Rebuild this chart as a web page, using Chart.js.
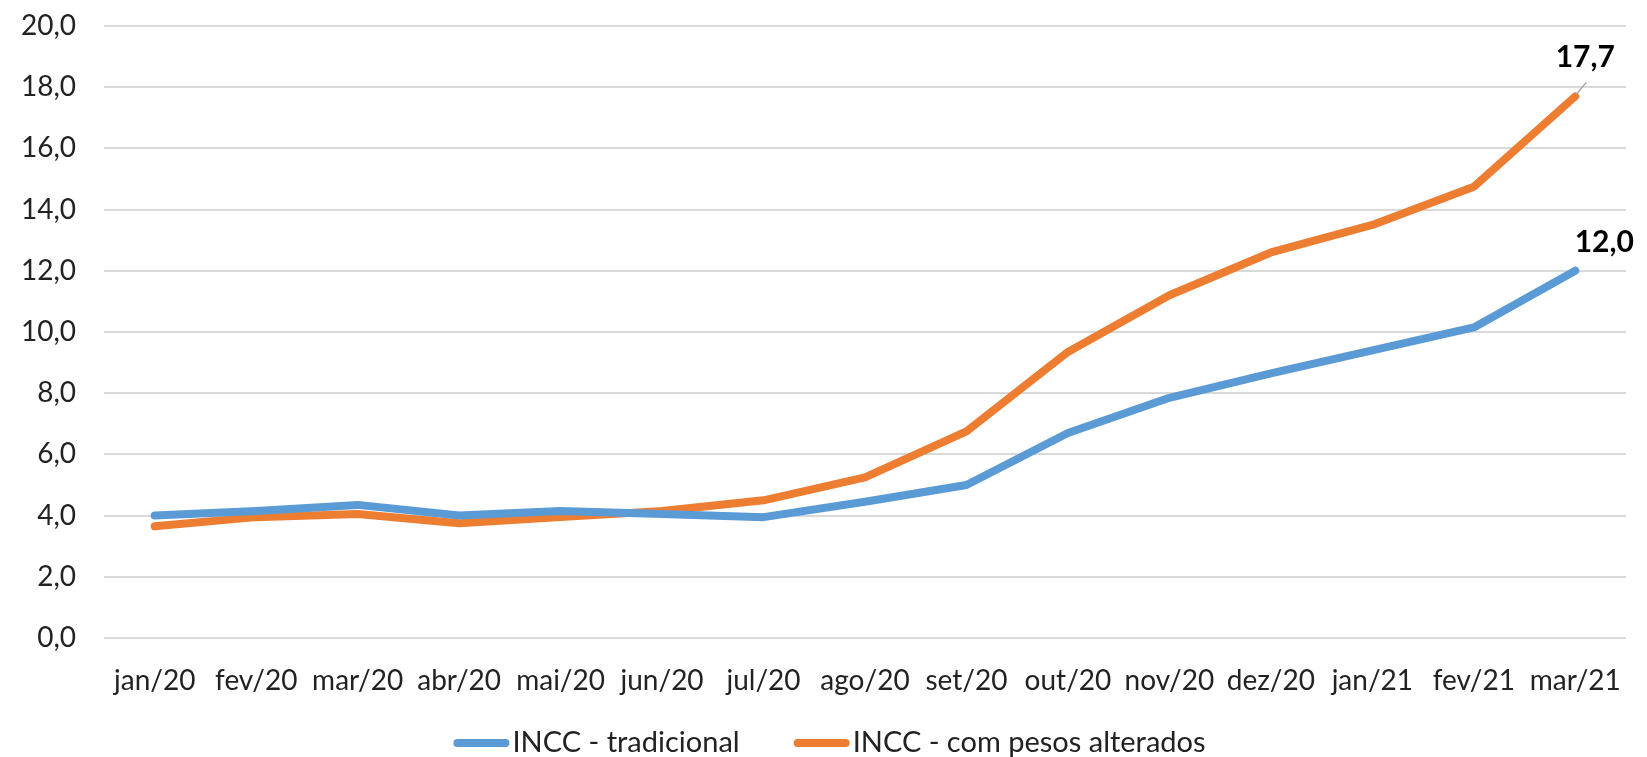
<!DOCTYPE html>
<html>
<head>
<meta charset="utf-8">
<script src="https://cdn.jsdelivr.net/npm/chart.js@4.4.0/dist/chart.umd.min.js"></script>
<style>
  body { margin: 0; background: #fff; }
  #wrap { width: 1647px; height: 757px; position: relative; }
</style>
</head>
<body>
<div id="wrap"><canvas id="linechart"></canvas></div>
<script>
// data
const months = ['jan/20', 'fev/20', 'mar/20', 'abr/20', 'mai/20', 'jun/20', 'jul/20', 'ago/20',
  'set/20', 'out/20', 'nov/20', 'dez/20', 'jan/21', 'fev/21', 'mar/21'];
const tradicional = [4.0, 4.15, 4.35, 4.0, 4.15, 4.05, 3.95, 4.45, 5.0, 6.7, 7.85, 8.65, 9.4, 10.15, 12.0];
const pesosAlterados = [3.65, 3.95, 4.05, 3.75, 3.95, 4.15, 4.5, 5.25, 6.75, 9.35, 11.2, 12.6, 13.5, 14.75, 17.7];
const yTicks = [0, 2, 4, 6, 8, 10, 12, 14, 16, 18, 20];

const blue = '#5B9BD5';
const orange = '#ED7D31';
const fmt = v => v.toFixed(1).replace('.', ',');

// label on the last point of each line
const endLabels = {
  id: 'endLabels',
  afterDatasetsDraw(chart) {
    const ctx = chart.ctx;
    const offsets = [[29, -28, false], [10, -39, true]];
    chart.data.datasets.forEach((ds, i) => {
      const meta = chart.getDatasetMeta(i);
      const last = meta.data[meta.data.length - 1];
      const [dx, dy, leader] = offsets[i];
      ctx.save();
      if (leader) {
        ctx.strokeStyle = '#a6a6a6';
        ctx.lineWidth = 1.5;
        ctx.beginPath();
        ctx.moveTo(last.x + 1, last.y - 2);
        ctx.lineTo(last.x + 11, last.y - 14);
        ctx.stroke();
      }
      ctx.font = 'bold 30px Lato';
      ctx.fillStyle = '#000';
      ctx.textAlign = 'center';
      ctx.textBaseline = 'middle';
      ctx.fillText(fmt(ds.data[ds.data.length - 1]), last.x + dx, last.y + dy);
      ctx.restore();
    });
  }
};

// legend at the bottom, Excel style (line sample right next to the text)
const bottomLegend = {
  id: 'bottomLegend',
  afterDraw(chart) {
    const ctx = chart.ctx;
    const lineLen = 56, gapText = 3, gapItem = 54;
    ctx.save();
    ctx.font = '29px Lato';
    const items = chart.data.datasets.map(ds => ({
      text: ds.label, color: ds.borderColor, w: ctx.measureText(ds.label).width
    }));
    const total = items.reduce((s, it) => s + lineLen + gapText + it.w, 0) + gapItem * (items.length - 1);
    let x = chart.width / 2 + 6 - total / 2;
    const y = chart.height - 14;
    items.forEach(it => {
      ctx.strokeStyle = it.color;
      ctx.lineWidth = 8;
      ctx.lineCap = 'round';
      ctx.beginPath();
      ctx.moveTo(x + 4, y);
      ctx.lineTo(x + lineLen - 4, y);
      ctx.stroke();
      ctx.fillStyle = '#222';
      ctx.textBaseline = 'middle';
      ctx.fillText(it.text, x + lineLen + gapText, y);
      x += lineLen + gapText + it.w + gapItem;
    });
    ctx.restore();
  }
};

Chart.defaults.font.family = 'Lato';
Chart.defaults.color = '#222';

const ctx = document.getElementById('linechart').getContext('2d');
const mychart = new Chart(ctx, {
  type: 'line',
  data: {
    labels: months,
    datasets: [{
      label: 'INCC - tradicional',
      data: tradicional,
      borderColor: blue,
      backgroundColor: blue,
      borderWidth: 8,
      borderCapStyle: 'round',
      borderJoinStyle: 'round',
      pointRadius: 0,
      tension: 0
    }, {
      label: 'INCC - com pesos alterados',
      data: pesosAlterados,
      borderColor: orange,
      backgroundColor: orange,
      borderWidth: 8,
      borderCapStyle: 'round',
      borderJoinStyle: 'round',
      pointRadius: 0,
      tension: 0
    }]
  },
  options: {
    responsive: true,
    maintainAspectRatio: false,
    animation: false,
    layout: { padding: { top: 26, right: 21, left: 0, bottom: 50 } },
    plugins: {
      legend: { display: false },
      tooltip: { enabled: false }
    },
    scales: {
      x: {
        offset: true,
        grid: { display: false },
        border: { display: false },
        ticks: { font: { size: 28 }, padding: 18, maxRotation: 0, autoSkip: false },
        afterFit: s => { s.height = 69; }
      },
      y: {
        min: 0,
        max: 20,
        afterBuildTicks: s => { s.ticks = yTicks.map(v => ({ value: v })); },
        grid: { color: '#d9d9d9', lineWidth: 2, drawTicks: false },
        border: { display: false },
        ticks: { font: { size: 28 }, padding: 28, callback: v => fmt(v) },
        afterFit: s => { s.width = 104; s.paddingTop = 0; s.paddingBottom = 0; }
      }
    }
  },
  plugins: [endLabels, bottomLegend]
});
</script>
</body>
</html>
